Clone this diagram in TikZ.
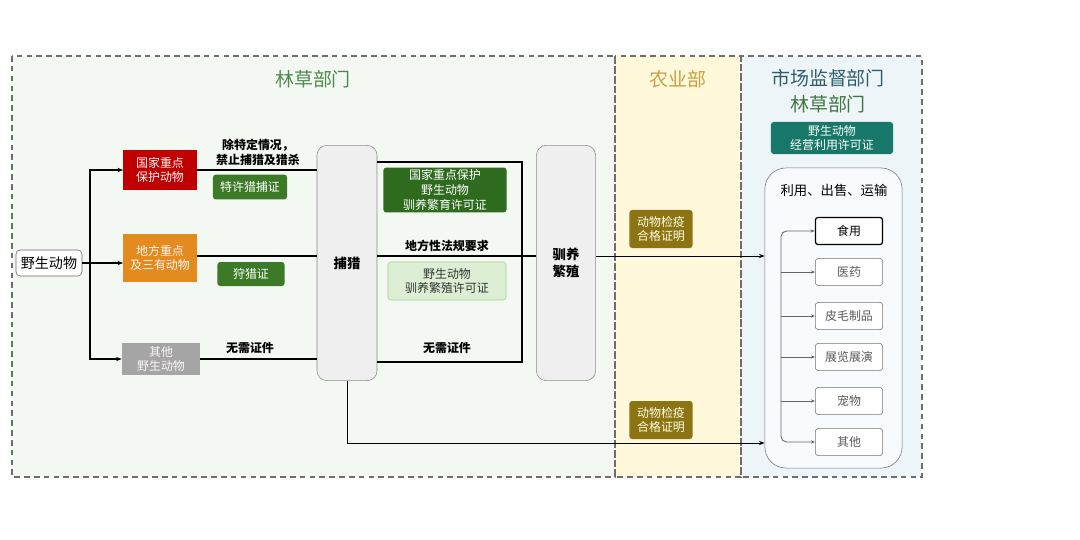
\documentclass[tikz,border=0pt]{standalone}
\usepackage{fontspec}
\setmainfont{Noto Sans CJK SC}
\usepackage{xcolor}
\usepackage{tikz}
\usetikzlibrary{arrows.meta,positioning,calc}
\definecolor{panelgreen}{HTML}{F3F8F3}
\definecolor{panelyellow}{HTML}{FFF8DA}
\definecolor{panelblue}{HTML}{EDF5F9}
\definecolor{dashgray}{HTML}{6E6E6E}
\definecolor{redbox}{HTML}{C00000}
\definecolor{orangebox}{HTML}{E38B1F}
\definecolor{graybox}{HTML}{A5A5A5}
\definecolor{permitgreen}{HTML}{3C7A28}
\definecolor{darkpermit}{HTML}{2F6B1F}
\definecolor{lightpermit}{HTML}{DCEFD4}
\definecolor{lightedge}{HTML}{A8D08D}
\definecolor{olivebox}{HTML}{8C7412}
\definecolor{tealbox}{HTML}{17786A}
\definecolor{titlegreen}{HTML}{4E8A4E}
\definecolor{titlegold}{HTML}{C9A040}
\definecolor{titleteal}{HTML}{2E5E6B}
\definecolor{stagefill}{HTML}{EFEFEF}

\begin{document}
\begin{tikzpicture}[x=0.025cm, y=-0.025cm,
  panel/.style={draw=dashgray, line width=1.1pt, dash pattern=on 4pt off 3pt},
  title/.style={font=\fontsize{13.5}{15}\selectfont},
  kind/.style={minimum width=1.83cm, minimum height=1.0cm, align=center, text=white!85!pink, font=\fontsize{8.5}{10.5}\selectfont, inner sep=1pt},
  permit/.style={rounded corners=2pt, align=center, text=white, font=\fontsize{8.5}{10.5}\selectfont, inner sep=1pt},
  stage/.style={draw=black!45, fill=stagefill, rounded corners=7pt, minimum width=1.5cm, minimum height=5.88cm, align=center, font=\bfseries\fontsize{9.5}{12}\selectfont},
  usebox/.style={draw=black!55, fill=white, rounded corners=2pt, minimum width=1.68cm, minimum height=0.68cm, text=black!65, font=\fontsize{8.5}{10}\selectfont},
  lbl/.style={align=center, font=\bfseries\fontsize{8.5}{10.5}\selectfont},
  arr/.style={-{Stealth[length=4pt]}, line width=0.9pt},
  garr/.style={-{Stealth[length=3pt]}, black!60, line width=0.6pt}
]
  \useasboundingbox (0,0) rectangle (1080,540);
  % panels
  \fill[panelgreen] (12,56) rectangle (615,477);
  \fill[panelyellow] (615,56) rectangle (741,477);
  \fill[panelblue] (741,56) rectangle (922,477);
  \draw[panel] (12,56) rectangle (615,477);
  \draw[panel] (615,56) rectangle (741,477);
  \draw[panel] (741,56) rectangle (922,477);

  \node[title, text=titlegreen] (forestry) at (313,79) {林草部门};
  \node[title, text=titlegold] (agri) at (678,79) {农业部};
  \node[title, text=titleteal] (market) at (828,78) {市场监督部门};
  \node[title, text=titlegreen!85!black] (forestry2) at (828,104) {林草部门};

  % left part
  \node[draw=black!60, fill=white, rounded corners=3pt, minimum width=1.65cm, minimum height=0.65cm, font=\fontsize{10}{11}\selectfont, inner sep=1pt] (wild) at (49,263) {野生动物};
  \node[kind, fill=redbox] (natl) at (160,170) {国家重点\\保护动物};
  \node[kind, fill=orangebox, minimum height=1.18cm] (local) at (160,258) {地方重点\\及三有动物};
  \node[kind, fill=graybox, minimum width=1.95cm, minimum height=0.8cm] (other) at (161,359) {其他\\野生动物};

  \node[stage] (hunt) at (347,263) {捕猎};
  \node[stage, minimum width=1.48cm] (breed) at (566,263) {驯养\\繁殖};

  \node[permit, fill=permitgreen, minimum width=1.85cm, minimum height=0.62cm] (special) at (250,187) {特许猎捕证};
  \node[permit, fill=permitgreen, minimum width=1.68cm, minimum height=0.6cm] (hunting) at (251,274) {狩猎证};
  \node[lbl] (except) at (258,152) {除特定情况，\\禁止捕猎及猎杀};
  \node[lbl] (nofree) at (250,348) {无需证件};

  \node[permit, fill=darkpermit, minimum width=3.08cm, minimum height=1.12cm] (natlbreed) at (445,190) {国家重点保护\\野生动物\\驯养繁育许可证};
  \node[permit, fill=lightpermit, draw=lightedge, text=black!80, minimum width=2.95cm, minimum height=0.95cm] (wildbreed) at (447,281) {野生动物\\驯养繁殖许可证};
  \node[lbl] (localrule) at (447,246) {地方性法规要求};
  \node[lbl] (nofree2) at (447,348) {无需证件};

  % forks
  \coordinate (fork) at (90,263);
  \coordinate (lv) at (0,256);
  \draw[line width=0.9pt] (wild.east) -- (fork);
  \draw[arr] (fork) |- (natl.west);
  \draw[arr] (fork) -- (fork -| local.west);
  \draw[arr] (fork) |- (other.west);
  \draw[line width=0.9pt] (natl.east) -- (natl.east -| hunt.west);
  \draw[line width=0.9pt] (local.east |- lv) -- (hunt.west |- lv);
  \draw[line width=0.9pt] (other.east) -- (other.east -| hunt.west);

  \coordinate (tr) at (522,162);
  \coordinate (br) at (522,362);
  \coordinate (bv) at (0,443);
  \draw[line width=0.9pt] (hunt.east |- tr) -- (tr) -- (br) -- (hunt.east |- br);
  \draw[line width=0.9pt] (hunt.east |- lv) -- (breed.west |- lv);

  % agriculture
  \node[permit, fill=olivebox, text=white!90!yellow, minimum width=1.58cm, minimum height=0.95cm] (quar1) at (661,229) {动物检疫\\合格证明};
  \node[permit, fill=olivebox, text=white!90!yellow, minimum width=1.58cm, minimum height=0.95cm] (quar2) at (661,420) {动物检疫\\合格证明};

  % market
  \node[permit, fill=tealbox, minimum width=3.05cm, minimum height=0.8cm] (trade) at (832,138) {野生动物\\经营利用许可证};
  \node[draw=black!55, fill=white!60!panelblue, rounded corners=15pt, minimum width=3.43cm, minimum height=7.5cm] (use) at (833.5,318) {};
  \node[font=\fontsize{9.5}{11}\selectfont] (uselbl) at (834,190) {利用、出售、运输};

  \node[usebox, draw=black, line width=0.9pt, text=black] (eat) at (849,231) {食用};
  \node[usebox] (med) at (849,272) {医药};
  \node[usebox] (fur) at (849,316) {皮毛制品};
  \node[usebox] (show) at (849,357) {展览展演};
  \node[usebox] (pet) at (849,401) {宠物};
  \node[usebox] (misc) at (849,442) {其他};

  \draw[arr, line width=0.7pt] (breed.east |- lv) -- (lv -| use.west);
  \draw[arr, line width=0.7pt] (hunt.south) |- (bv -| use.west);

  \coordinate (rf) at (781,300);
  \draw[garr, {Stealth[length=3pt]}-{Stealth[length=3pt]}, rounded corners=4pt] (eat.west) -| (rf) |- (misc.west);
  \foreach \u in {med,fur,show,pet}
    \draw[garr] (rf |- \u.west) -- (\u.west);
\end{tikzpicture}
\end{document}
